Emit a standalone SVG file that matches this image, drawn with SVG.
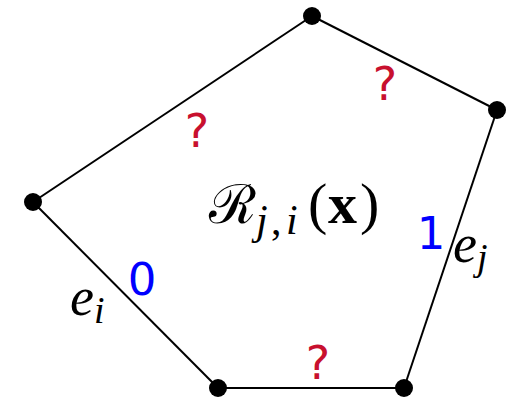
<svg xmlns="http://www.w3.org/2000/svg" width="514" height="404" viewBox="0 0 514 404">
<style>
.edge{stroke:#000;stroke-width:2;fill:none}
.dot{fill:#000}
.q{font-family:"DejaVu Sans",sans-serif;font-size:46px;fill:#c8102e;text-anchor:middle}
.num{font-family:"DejaVu Sans",sans-serif;font-size:45px;fill:#0000ff;text-anchor:middle}
.m{font-family:"Liberation Serif",serif;font-style:italic;fill:#000}
.r{font-family:"Liberation Serif",serif;fill:#000}
</style>
<rect width="514" height="404" fill="#fff"/>
<g id="connectors">
<line class="edge" x1="312" y1="16" x2="497" y2="110"/>
<line class="edge" x1="497" y1="110" x2="404" y2="388"/>
<line class="edge" x1="404" y1="388" x2="218" y2="388"/>
<line class="edge" x1="218" y1="388" x2="33" y2="202"/>
<line class="edge" x1="33" y1="202" x2="312" y2="16"/>
</g>
<g id="v1"><circle class="dot" cx="312" cy="16" r="9"/></g>
<g id="v2"><circle class="dot" cx="497" cy="110" r="9"/></g>
<g id="v3"><circle class="dot" cx="404" cy="388" r="9"/></g>
<g id="v4"><circle class="dot" cx="218" cy="388" r="9"/></g>
<g id="v5"><circle class="dot" cx="33" cy="202" r="9"/></g>
<g id="labels">
<text class="q" x="197" y="147">?</text>
<text class="q" x="385" y="100">?</text>
<text class="q" x="318" y="379">?</text>
<text class="num" x="142" y="295">0</text>
<text class="num" x="431" y="249">1</text>
<text class="m" x="70" y="315" font-size="54">e<tspan font-size="38" dy="8">i</tspan></text>
<text class="m" x="453" y="262" font-size="54">e<tspan font-size="38" dy="8">j</tspan></text>
<text x="209" y="223" font-size="54" font-family="'DejaVu Serif',serif">ℛ</text>
<text class="m" x="256" y="234" font-size="42">j</text>
<text class="r" x="271" y="234" font-size="42">,</text>
<text class="m" x="286" y="234" font-size="42">i</text>
<text class="r" x="308" y="223" font-size="58">(</text>
<text class="r" x="328" y="223" font-size="58" font-weight="bold">x</text>
<text class="r" x="360" y="223" font-size="58">)</text>
</g>
</svg>
